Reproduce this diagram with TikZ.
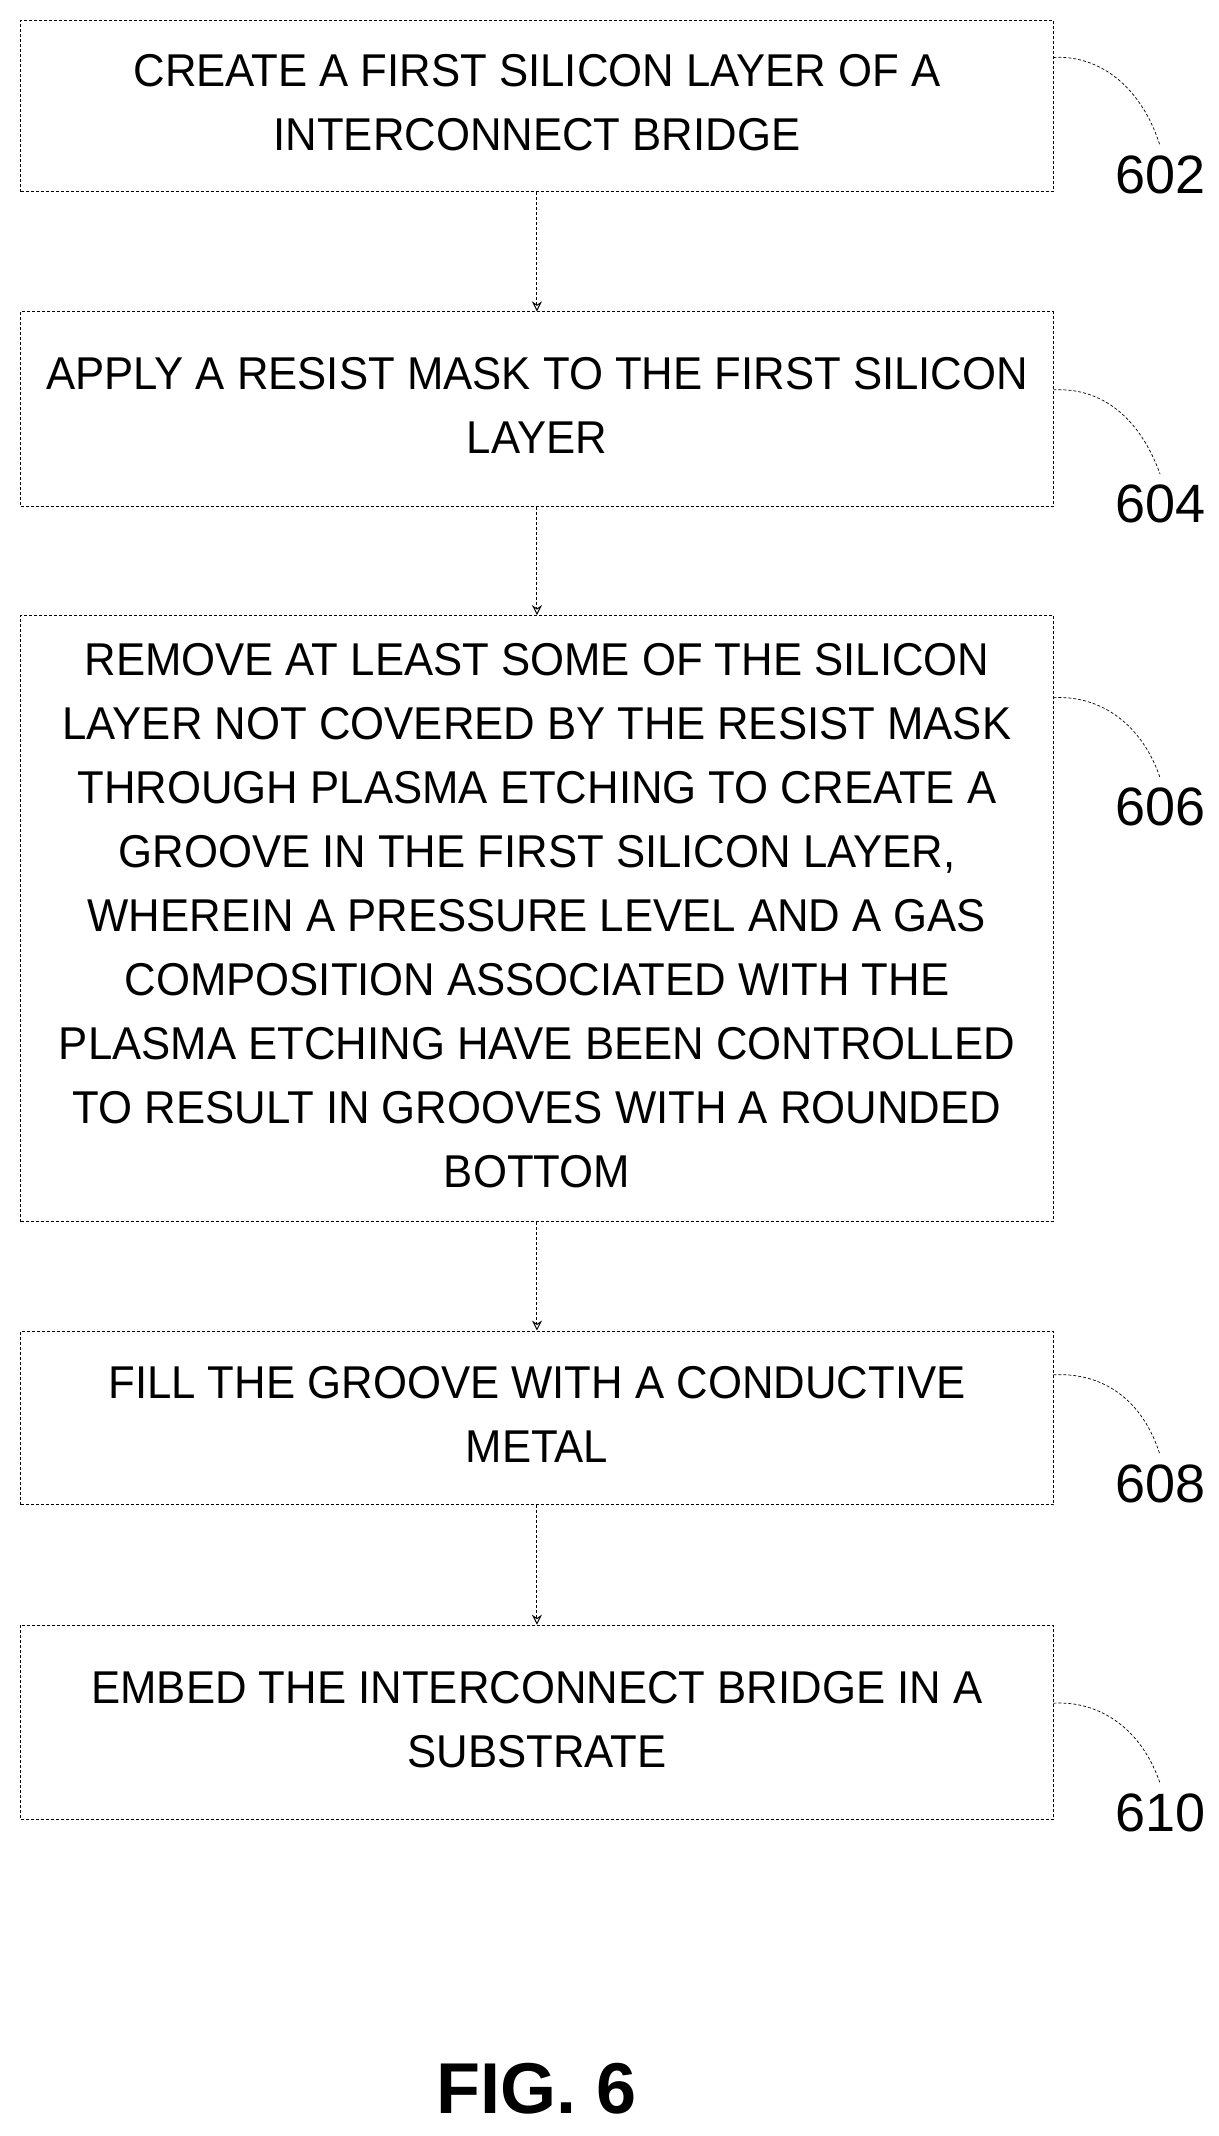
\documentclass[tikz,border=0pt]{standalone}
\usepackage{fontspec}
\setmainfont{Liberation Sans}
\usepackage{graphicx}
\usetikzlibrary{arrows.meta}
\begin{document}
\begin{tikzpicture}[x=1.368pt,y=-1.368pt,
  stepbox/.style={draw,densely dashed,line width=1pt,minimum width=755*1.368pt,inner sep=0pt,
    font=\fontsize{46}{64}\selectfont},
  flow/.style={draw,densely dashed,line width=1pt,-{Stealth[length=10pt,width=10pt,open]}},
  lead/.style={draw,densely dashed,line width=0.7pt},
  num/.style={font=\fontsize{54}{54}\selectfont,inner sep=0pt}]
\useasboundingbox (0,0) rectangle (890.35,1561.4);
\newcommand\nar[1]{\scalebox{0.95}[1]{\begin{tabular}{@{}c@{}}#1\end{tabular}}}
\node[stepbox,minimum height=125*1.368pt] (b1) at (392.5,77.5) {\nar{CREATE A FIRST SILICON LAYER OF A\\INTERCONNECT BRIDGE}};
\node[stepbox,minimum height=142*1.368pt] (b2) at (392.5,299) {\nar{APPLY A RESIST MASK TO THE FIRST SILICON\\LAYER}};
\node[stepbox,minimum height=443*1.368pt] (b3) at (392.5,671.5) {\nar{REMOVE AT LEAST SOME OF THE SILICON\\LAYER NOT COVERED BY THE RESIST MASK\\THROUGH PLASMA ETCHING TO CREATE A\\GROOVE IN THE FIRST SILICON LAYER,\\WHEREIN A PRESSURE LEVEL AND A GAS\\COMPOSITION ASSOCIATED WITH THE\\PLASMA ETCHING HAVE BEEN CONTROLLED\\TO RESULT IN GROOVES WITH A ROUNDED\\BOTTOM}};
\node[stepbox,minimum height=127*1.368pt] (b4) at (392.5,1036.5) {\nar{FILL THE GROOVE WITH A CONDUCTIVE\\METAL}};
\node[stepbox,minimum height=142*1.368pt] (b5) at (392.5,1259) {\nar{EMBED THE INTERCONNECT BRIDGE IN A\\SUBSTRATE}};
\draw[flow] (b1) -- (b2);
\draw[flow] (b2) -- (b3);
\draw[flow] (b3) -- (b4);
\draw[flow] (b4) -- (b5);
\node[num] (n1) at (848,128) {602};
\node[num] (n2) at (848,368) {604};
\node[num] (n3) at (848,590) {606};
\node[num] (n4) at (848,1085) {608};
\node[num] (n5) at (848,1325) {610};
\coordinate (c1) at (770,42); \coordinate (c2) at (770,285); \coordinate (c3) at (770,510);
\coordinate (c4) at (770,1005); \coordinate (c5) at (770,1245);
\draw[lead] (c1) .. controls (805,40) and (835,65) .. ([yshift=10pt]n1.north);
\draw[lead] (c2) .. controls (805,283) and (833,305) .. ([yshift=10pt]n2.north);
\draw[lead] (c3) .. controls (805,508) and (835,530) .. ([yshift=10pt]n3.north);
\draw[lead] (c4) .. controls (805,1003) and (835,1022) .. ([yshift=10pt]n4.north);
\draw[lead] (c5) .. controls (805,1243) and (835,1265) .. ([yshift=10pt]n5.north);
\node[font=\bfseries\fontsize{72}{72}\selectfont] (fig) at (392,1527) {FIG. 6};
\end{tikzpicture}
\end{document}
